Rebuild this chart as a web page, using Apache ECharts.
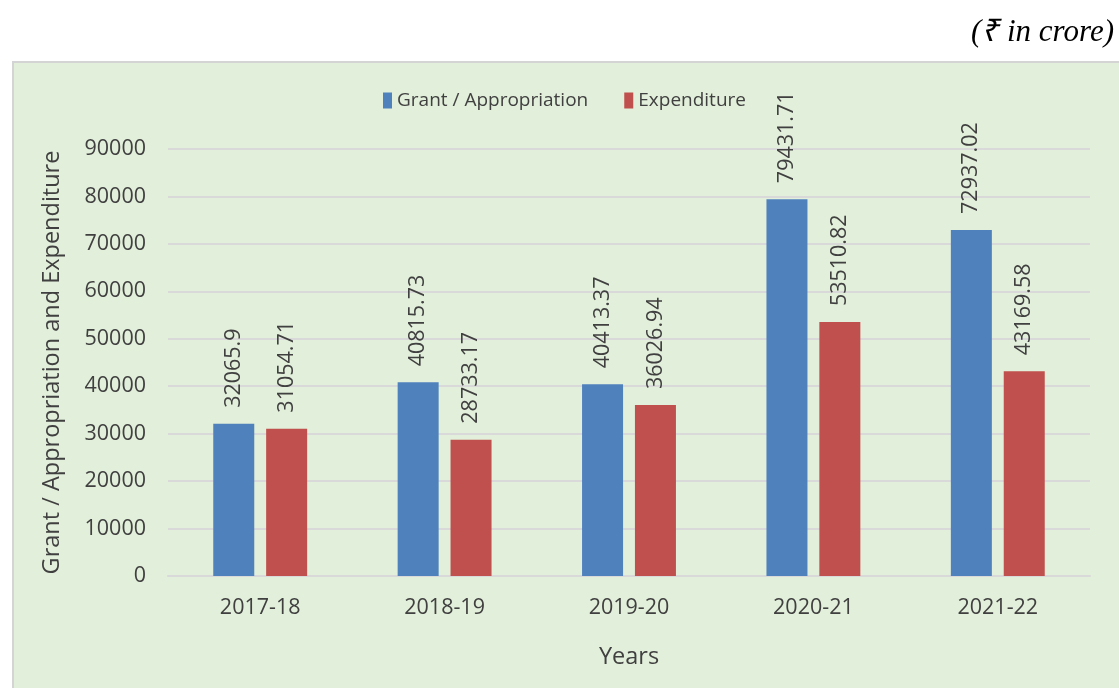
<!DOCTYPE html>
<html>
<head>
<meta charset="utf-8">
<script src="https://cdn.jsdelivr.net/npm/echarts@6/dist/echarts.min.js"></script>
<style>
  html, body { margin: 0; padding: 0; background: #fff; }
  #chart { width: 1119px; height: 688px; }
</style>
</head>
<body>
<div id="chart"></div>
<script>
const years = ['2017-18', '2018-19', '2019-20', '2020-21', '2021-22'];
const grantData = [32065.9, 40815.73, 40413.37, 79431.71, 72937.02];
const expenditureData = [31054.71, 28733.17, 36026.94, 53510.82, 43169.58];
const yTicks = { min: 0, max: 90000, interval: 10000 };

const chart = echarts.init(document.getElementById('chart'));

const barLabel = {
  show: true,
  position: 'top',
  rotate: 90,
  align: 'left',
  verticalAlign: 'middle',
  distance: 16,
  fontFamily: 'Open Sans',
  fontSize: 21.5,
  color: '#404040'
};

const option = {
  animation: false,
  textStyle: { fontFamily: 'Open Sans' },
  title: {
    text: '(₹ in crore)',
    right: 0,
    top: 12,
    textStyle: {
      fontFamily: 'Liberation Serif',
      fontStyle: 'italic',
      fontWeight: 'normal',
      fontSize: 31,
      color: '#000'
    }
  },
  graphic: [{
    type: 'rect',
    left: 12,
    top: 61,
    z: -10,
    shape: { width: 1120, height: 640 },
    style: { fill: '#E2EFDA', stroke: '#D4D4D4', lineWidth: 2 }
  }],
  legend: {
    top: 86,
    left: 378,
    itemWidth: 9,
    itemHeight: 16,
    itemGap: 36,
    icon: 'rect',
    textStyle: { fontFamily: 'Open Sans', fontSize: 19, color: '#404040' },
    data: ['Grant / Appropriation', 'Expenditure']
  },
  grid: { left: 168, right: 29, top: 149, bottom: 112 },
  xAxis: {
    type: 'category',
    data: years,
    name: 'Years',
    nameLocation: 'middle',
    nameGap: 69,
    nameTextStyle: { fontSize: 23.5, color: '#404040' },
    axisLine: { lineStyle: { color: '#D9D9D9', width: 2 } },
    axisTick: { show: false },
    axisLabel: { fontSize: 21.5, color: '#404040', margin: 21 }
  },
  yAxis: {
    type: 'value',
    min: yTicks.min,
    max: yTicks.max,
    interval: yTicks.interval,
    name: 'Grant / Appropriation and Expenditure',
    nameLocation: 'middle',
    nameGap: 104,
    nameTextStyle: { fontSize: 23.5, color: '#404040' },
    axisLine: { show: false },
    axisTick: { show: false },
    axisLabel: { fontSize: 21.5, color: '#404040', margin: 22, formatter: v => String(v) },
    splitLine: { lineStyle: { color: '#D9D9D9', width: 2 } }
  },
  series: [
    {
      name: 'Grant / Appropriation',
      type: 'bar',
      data: grantData,
      barWidth: 41,
      barGap: '29%',
      itemStyle: { color: '#4F81BD' },
      label: barLabel
    },
    {
      name: 'Expenditure',
      type: 'bar',
      data: expenditureData,
      barWidth: 41,
      itemStyle: { color: '#C0504D' },
      label: barLabel
    }
  ]
};

chart.setOption(option);
</script>
</body>
</html>
